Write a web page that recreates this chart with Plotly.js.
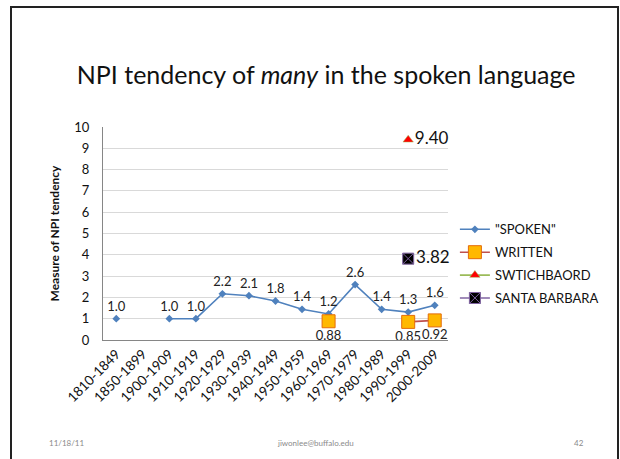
<!DOCTYPE html>
<html><head><meta charset="utf-8">
<script src="https://cdn.plot.ly/plotly-3.0.1.min.js"></script>
<style>
html,body{margin:0;padding:0;background:#fff;}
#wrap{position:relative;width:620px;height:459px;overflow:hidden;}
#frame{position:absolute;left:10px;top:6px;width:605px;height:470px;border:2px solid #222;border-bottom:none;}
#chart{position:absolute;left:0;top:0;width:620px;height:459px;}
</style></head>
<body><div id="wrap"><div id="frame"></div><div id="chart"></div></div>
<script>
const categories = ["1810-1849","1850-1899","1900-1909","1910-1919","1920-1929","1930-1939","1940-1949","1950-1959","1960-1969","1970-1979","1980-1989","1990-1999","2000-2009"];
const spoken = [1.0, null, 1.0, 1.0, 2.17, 2.08, 1.83, 1.44, 1.22, 2.60, 1.44, 1.31, 1.63];
const written = [null, null, null, null, null, null, null, null, 0.88, null, null, 0.85, 0.92];
const switchboard = [null, null, null, null, null, null, null, null, null, null, null, 9.40, null];
const santaBarbara = [null, null, null, null, null, null, null, null, null, null, null, 3.82, null];
const yTicks = [0,1,2,3,4,5,6,7,8,9,10];

const fmt = (arr, d) => arr.map(v => v === null ? "" : v.toFixed(d));
const F = "Lato, 'Open Sans', sans-serif";

const traces = [
  {name: '"SPOKEN"', legendgroup: 'a', x: categories, y: spoken, mode: 'lines+markers+text', text: fmt(spoken,1),
   textposition: 'top center', textfont: {size: 13, color: '#222', family: F},
   line: {color: '#4F81BD', width: 1.6}, marker: {symbol: 'diamond', size: 6, color: '#4F81BD'}, connectgaps: false, cliponaxis: false},
  {name: 'WRITTEN', legendgroup: 'b', x: categories, y: written, mode: 'lines+markers+text', text: fmt(written,2),
   textposition: 'bottom center', textfont: {size: 13, color: '#222', family: F},
   line: {color: '#C0504D', width: 1.6}, marker: {symbol: 'square', size: 13, color: '#FFB800', line: {color: '#E46C0A', width: 1}}, connectgaps: false, cliponaxis: false},
  {name: 'SWTICHBAORD', legendgroup: 'c', x: categories, y: switchboard, mode: 'lines+markers+text', text: fmt(switchboard,2),
   textposition: 'middle right', textfont: {size: 17, color: '#111', family: F},
   line: {color: '#9BBB59', width: 1.6}, marker: {symbol: 'triangle-up', size: 9, color: '#FF0000', line: {color: '#9BBB59', width: 0.5}}, cliponaxis: false},
  {name: 'SANTA BARBARA', legendgroup: 'd', x: categories, y: santaBarbara, mode: 'lines+markers+text', text: fmt(santaBarbara,2),
   textposition: 'middle right', textfont: {size: 17, color: '#111', family: F},
   line: {color: '#8064A2', width: 1.6}, marker: {symbol: 'square-x', size: 11, color: '#000', line: {color: '#8064A2', width: 1}}, cliponaxis: false}
];

const layout = {
  width: 620, height: 459,
  paper_bgcolor: 'rgba(0,0,0,0)', plot_bgcolor: 'rgba(0,0,0,0)',
  margin: {l: 103, r: 172, t: 127, b: 119, autoexpand: false},
  font: {family: F, color: '#111'},
  title: {text: 'NPI tendency of <i>many</i> in the spoken language', font: {size: 25, family: F, color: '#111'},
          x: 0.526, xref: 'container', xanchor: 'center', y: 0.835, yref: 'container', yanchor: 'middle'},
  showlegend: true,
  legend: {x: 1.02, y: 0.59, xanchor: 'left', yanchor: 'top', font: {size: 13, family: F, color: '#111'},
           bgcolor: 'rgba(0,0,0,0)', tracegroupgap: 3, itemwidth: 30},
  xaxis: {type: 'category', categoryarray: categories, range: [-0.5, categories.length - 0.5], autorange: false,
          tickangle: -45, tickfont: {size: 13.5, family: F, color: '#111'},
          showgrid: false, showline: true, linecolor: '#868686', linewidth: 1, ticks: '', zeroline: false, fixedrange: true, automargin: false},
  yaxis: {range: [0, 10], autorange: false, tickvals: yTicks, ticktext: yTicks.map(String), tickfont: {size: 13, family: F, color: '#111'},
          showgrid: true, gridcolor: '#D9D9D9', gridwidth: 1, showline: true, linecolor: '#868686', linewidth: 1,
          ticks: 'outside', ticklen: 10, tickcolor: 'rgba(0,0,0,0)', zeroline: false, fixedrange: true, automargin: false,
          title: {text: '<b>Measure of NPI tendency</b>', font: {size: 12, family: F, color: '#111'}, standoff: 12}},
  annotations: [
    {text: '11/18/11', xref: 'paper', yref: 'paper', x: -0.105, y: -0.485, xanchor: 'center', yanchor: 'middle', showarrow: false, font: {size: 8, color: '#8A8A8A', family: F}},
    {text: 'jiwonlee@buffalo.edu', xref: 'paper', yref: 'paper', x: 0.615, y: -0.485, xanchor: 'center', yanchor: 'middle', showarrow: false, font: {size: 8, color: '#8A8A8A', family: F}},
    {text: '42', xref: 'paper', yref: 'paper', x: 1.38, y: -0.485, xanchor: 'center', yanchor: 'middle', showarrow: false, font: {size: 8, color: '#8A8A8A', family: F}}
  ]
};

Plotly.newPlot('chart', traces, layout, {displayModeBar: false, staticPlot: true});
</script></body></html>
